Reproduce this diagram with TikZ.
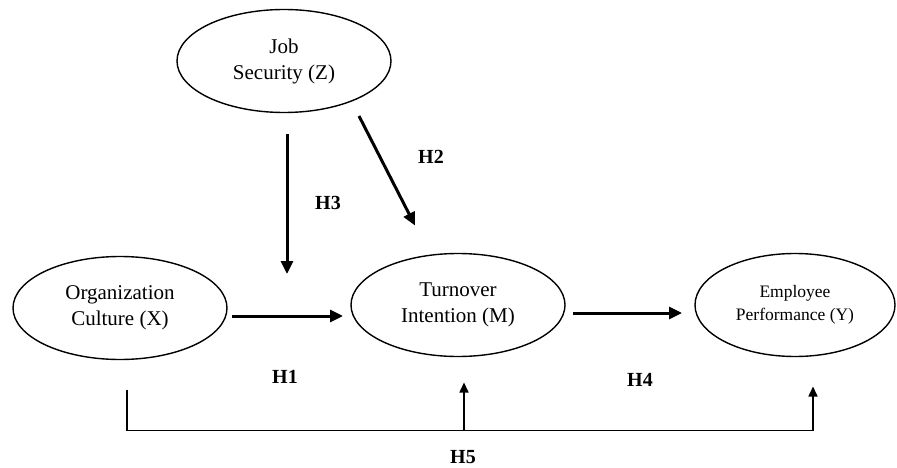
\documentclass[tikz,border=0pt]{standalone}
\usepackage{fontspec}
\setmainfont{Liberation Serif}
\usetikzlibrary{positioning,shapes.geometric,arrows.meta}

\begin{document}
\begin{tikzpicture}[x=1pt,y=-1pt,outer sep=0pt]
    \tikzstyle{VAR} = [ellipse, draw=black, line width=1.4pt, inner sep=0pt, align=center, minimum width=214pt, minimum height=103pt, font=\fontsize{21}{26}\selectfont]
    \tikzstyle{HYP} = [font=\fontsize{20}{24}\selectfont\bfseries]
    \tikzstyle{path} = [line width=3pt, -{Triangle[length=13pt,width=12pt]}]
    \tikzstyle{link} = [line width=1.6pt, -{Triangle[length=10pt,width=9pt]}]
    \useasboundingbox (0,0) rectangle (897,468);
    % variables
    \node (js) [VAR] at (284,61) {Job\\Security (Z)};
    \node (oc) [VAR] at (120,308) {Organization\\Culture (X)};
    \node (ti) [VAR] at (458,305) {Turnover\\Intention (M)};
    \node (ep) [VAR, minimum width=200pt, font=\fontsize{17.5}{23}\selectfont] at (795,305) {Employee\\Performance (Y)};
    % hypotheses
    \draw[path] ([xshift=5pt,yshift=-8pt]oc.east) -- ([xshift=-8pt,yshift=-8pt]oc.east -| ti.west);
    \draw[path] ([xshift=8pt,yshift=-8pt]ti.east) -- ([xshift=-13pt,yshift=-8pt]ti.east -| ep.west);
    \coordinate (h3top) at ([xshift=3pt,yshift=-22pt]js.south);
    \draw[path] (h3top) -- (h3top |- 0,274);
    \coordinate (h2top) at (359,116);
    \draw[path] (h2top) -- ([xshift=-43pt,yshift=28pt]ti.north);
    \draw[link] ([xshift=7pt,yshift=-30pt]oc.south) -- ++(0,41) -| ([xshift=18pt,yshift=-30pt]ep.south);
    \draw[link] ([xshift=6pt]ti.south |- 0,431) -- ([xshift=6pt,yshift=-26pt]ti.south);
    % labels
    \node (h1) [HYP] at (285,377) {H1};
    \node (h2) [HYP] at (431,157) {H2};
    \node (h3) [HYP] at (328,203) {H3};
    \node (h4) [HYP] at (640,380) {H4};
    \node (h5) [HYP] at (463,457) {H5};
\end{tikzpicture}
\end{document}
